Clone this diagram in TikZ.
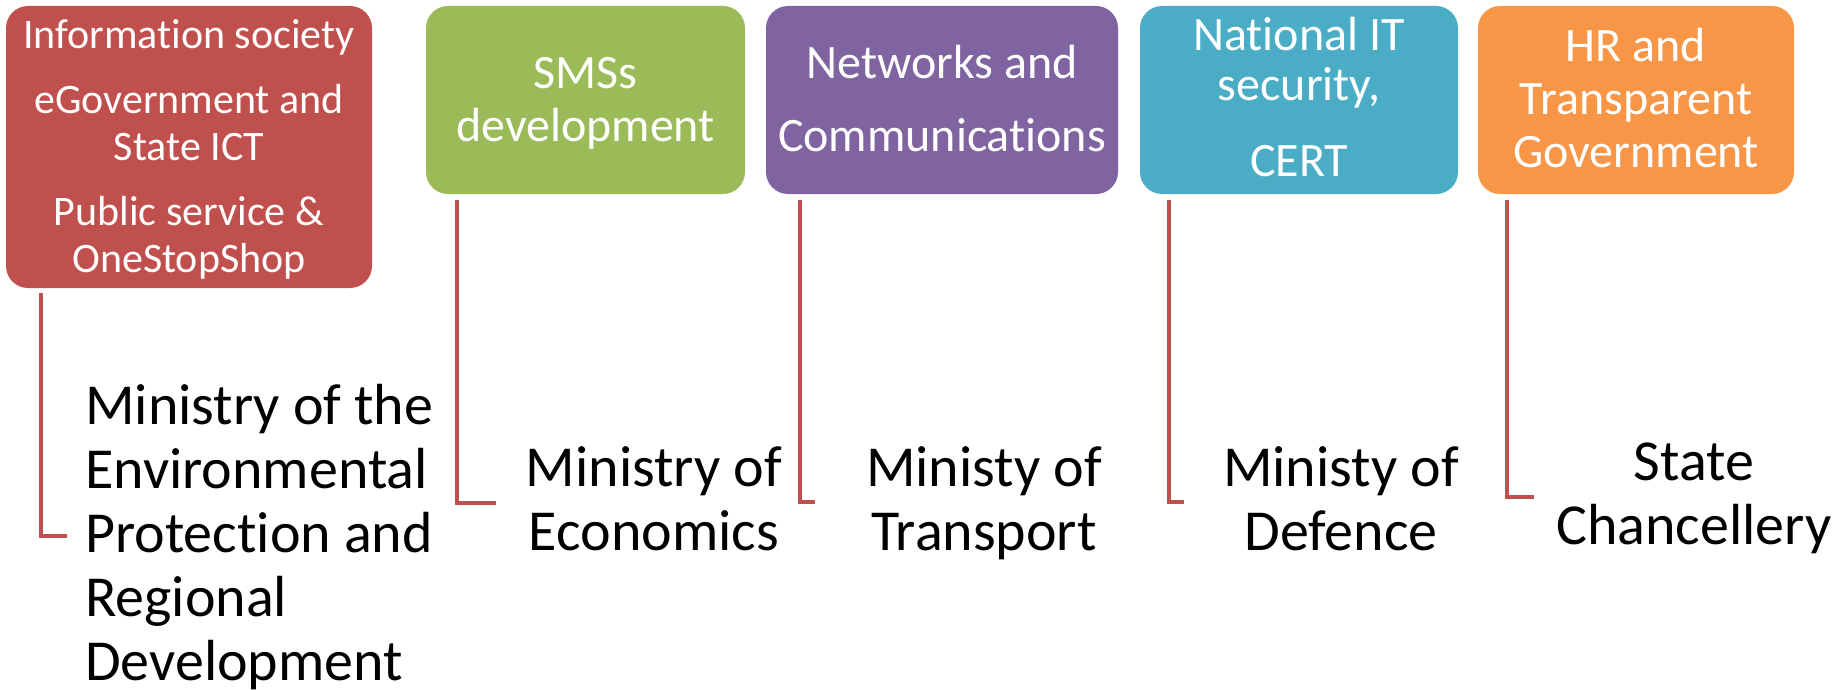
\documentclass[tikz,border=0pt]{standalone}
\usepackage{fontspec}
\setmainfont{Carlito}[Ligatures=NoCommon]
\usetikzlibrary{calc}
\definecolor{cred}{HTML}{C0504D}
\definecolor{cgreen}{HTML}{9BBB59}
\definecolor{cpurple}{HTML}{8064A2}
\definecolor{cteal}{HTML}{4BACC6}
\definecolor{corange}{HTML}{F79646}
\tikzset{
  box/.style={rounded corners=22pt, inner sep=0pt},
  smallbox/.style={box, minimum height=188pt},
  boxtext/.style={inner sep=0pt, text=white, font=\fontsize{48}{53}\selectfont},
  conn/.style={draw=cred, line width=4pt},
  ministry/.style={inner sep=0pt, font=\fontsize{58}{64}\selectfont, text=black}
}
\begin{document}
\begin{tikzpicture}[x=1pt,y=-1pt]
\useasboundingbox (0,0) rectangle (1846,690);
\node[box, fill=cred, minimum width=366pt, minimum height=282pt] (b1) at (189,147) {};
\node[smallbox, fill=cgreen, minimum width=319pt] (b2) at (585.5,100) {};
\node[smallbox, fill=cpurple, minimum width=352pt] (b3) at (942,100) {};
\node[smallbox, fill=cteal, minimum width=318pt] (b4) at (1299,100) {};
\node[smallbox, fill=corange, minimum width=316pt] (b5) at (1636,100) {};

\node[boxtext, font=\fontsize{42}{47}\selectfont] (t1) at ($(b1.center)+(0,4)$)
  {\begin{tabular}{@{}c@{}}Information society\\[18pt] eGovernment and\\ State ICT\\[18pt] Public service \&\\ OneStopShop\end{tabular}};
\node[boxtext] (t2) at ($(b2.center)+(0,4)$)
  {\begin{tabular}{@{}c@{}}SMSs\\ development\end{tabular}};
\node[boxtext] (t3) at ($(b3.center)+(0,4)$)
  {\begin{tabular}{@{}c@{}}Networks and\\[20pt] Communications\end{tabular}};
\node[boxtext, font=\fontsize{48}{50}\selectfont] (t4) at ($(b4.center)+(0,4)$)
  {\begin{tabular}{@{}c@{}}National IT\\ security,\\[26pt] CERT\end{tabular}};
\node[boxtext] (t5) at ($(b5.center)+(0,4)$)
  {\begin{tabular}{@{}c@{}}HR and\\ Transparent\\ Government\end{tabular}};

\node[ministry, anchor=base west] (m1) at (85,424)
  {\begin{tabular}[t]{@{}l@{}}Ministry of the\\ Environmental\\ Protection and\\ Regional\\ Development\end{tabular}};
\node[ministry, anchor=base] (m2) at (654,486)
  {\begin{tabular}[t]{@{}c@{}}Ministry of\\ Economics\end{tabular}};
\node[ministry, anchor=base] (m3) at (984,486)
  {\begin{tabular}[t]{@{}c@{}}Ministy of\\ Transport\end{tabular}};
\node[ministry, anchor=base] (m4) at (1341,486)
  {\begin{tabular}[t]{@{}c@{}}Ministy of\\ Defence\end{tabular}};
\node[ministry, anchor=base] (m5) at (1694,480)
  {\begin{tabular}[t]{@{}c@{}}State\\ Chancellery\end{tabular}};

\coordinate (e1) at (67,536);
\coordinate (e2) at (496,503);
\coordinate (e3) at (815,502);
\coordinate (e4) at (1184,502);
\coordinate (e5) at (1534,497);
\draw[conn] ($(b1.south west)+(35,5)$) |- (e1);
\draw[conn] ($(b2.south west)+(31,6)$) |- (e2);
\draw[conn] ($(b3.south west)+(34,6)$) |- (e3);
\draw[conn] ($(b4.south west)+(29,6)$) |- (e4);
\draw[conn] ($(b5.south west)+(29,6)$) |- (e5);
\end{tikzpicture}
\end{document}
